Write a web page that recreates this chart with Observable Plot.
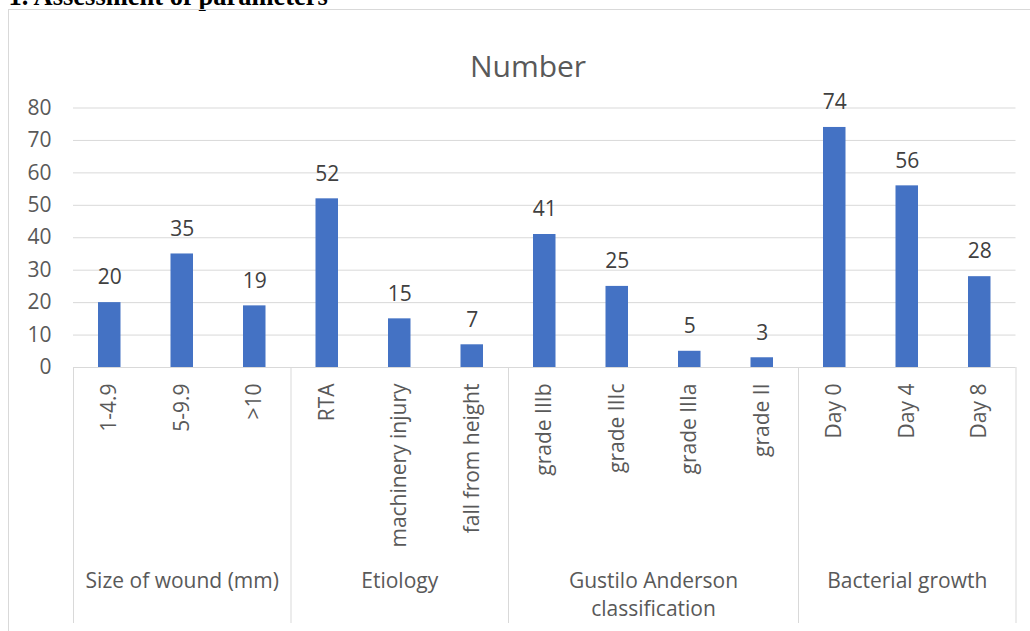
<!DOCTYPE html>
<html>
<head>
<meta charset="utf-8">
<script src="https://cdn.jsdelivr.net/npm/d3@7"></script>
<script src="https://cdn.jsdelivr.net/npm/@observablehq/plot@0.6"></script>
<style>
  html, body { margin: 0; padding: 0; background: #fff; overflow: hidden; }
  #page { position: relative; width: 1030px; height: 631px; overflow: hidden; }
  #heading {
    position: absolute; left: 8.5px; top: -17px; white-space: nowrap;
    font: bold 26.5px/26.5px "Liberation Serif", "Times New Roman", serif; color: #000;
  }
  #box {
    position: absolute; left: 8px; top: 9px; width: 1060px; height: 660px;
    border: 1px solid #d9d9d9; box-sizing: border-box;
  }
  #chart { position: absolute; left: 0; top: 0; }
</style>
</head>
<body>
<div id="page">
  <div id="heading">1. Assessment of parameters</div>
  <div id="box"></div>
  <div id="chart"></div>
</div>
<script>
// Categories along the x axis, in display order
const categories = [
  "1-4.9", "5-9.9", ">10",
  "RTA", "machinery injury", "fall from height",
  "grade IIIb", "grade IIIc", "grade IIIa", "grade II",
  "Day 0", "Day 4", "Day 8"
];
// Number of cases per category
const counts = [20, 35, 19, 52, 15, 7, 41, 25, 5, 3, 74, 56, 28];
// Outer category groups and how many categories each spans
const groupNames = ["Size of wound (mm)", "Etiology", "Gustilo Anderson\nclassification", "Bacterial growth"];
const groupSizes = [3, 3, 4, 3];
// Y axis tick values
const yTicks = [0, 10, 20, 30, 40, 50, 60, 70, 80];
const chartTitle = "Number";

const rows = categories.map((c, i) => ({category: c, value: counts[i], i}));

// Group extents in category-index units
let start = 0;
const groups = groupNames.map((name, k) => {
  const g = {name, start, end: start + groupSizes[k]};
  start = g.end;
  return g;
});
const boundaries = [0, ...groups.map(g => g.end)];

const font = "Open Sans, Noto Sans, sans-serif";
const axisGray = "#595959";
const gridGray = "#d9d9d9";
const fs = 21;
const groupLineHeight = 1.37;

// The frame covers the category-label band (below the value axis), so the
// group separators drawn with ruleX span exactly that band; the y scale's
// range is set explicitly above it.
const baseY = 367;
const plot = Plot.plot({
  width: 1030,
  height: 631,
  marginLeft: 73,
  marginRight: 14.5,
  marginTop: baseY,
  marginBottom: 8,
  style: {fontFamily: font, fontSize: fs + "px", background: "transparent", overflow: "visible"},
  x: {type: "linear", domain: [0, categories.length], axis: null},
  y: {domain: [0, 80], range: [baseY, 107.5], axis: null},
  marks: [
    Plot.gridY(yTicks, {stroke: gridGray, strokeOpacity: 1, strokeWidth: 1}),
    Plot.axisY(yTicks, {tickSize: 0, tickPadding: 22, fill: axisGray, fontSize: fs, label: null}),
    Plot.rectY(rows, {x1: d => d.i, x2: d => d.i + 1, y: "value", insetLeft: 25, insetRight: 25, fill: "#4472C4"}),
    Plot.text(rows, {x: d => d.i + 0.5, y: "value", text: d => String(d.value), dy: -25, fill: "#404040", fontSize: fs}),
    Plot.text(rows, {x: d => d.i + 0.5, y: 0, text: "category", rotate: -90, textAnchor: "end", dy: 16, fill: axisGray, fontSize: fs}),
    Plot.ruleX(boundaries, {x: d => d, stroke: gridGray, strokeWidth: 1}),
    Plot.text(groups, {
      x: d => (d.start + d.end) / 2, y: 0, text: "name",
      lineAnchor: "top", lineHeight: groupLineHeight,
      dy: 587 - baseY - 0.71 * groupLineHeight * fs,
      fill: axisGray, fontSize: fs
    }),
    Plot.text([chartTitle], {frameAnchor: "top", text: d => d, dx: -16.75, dy: 65 - 0.32 * 30 - baseY, fill: axisGray, fontSize: 30})
  ]
});

document.getElementById("chart").appendChild(plot);
</script>
</body>
</html>
